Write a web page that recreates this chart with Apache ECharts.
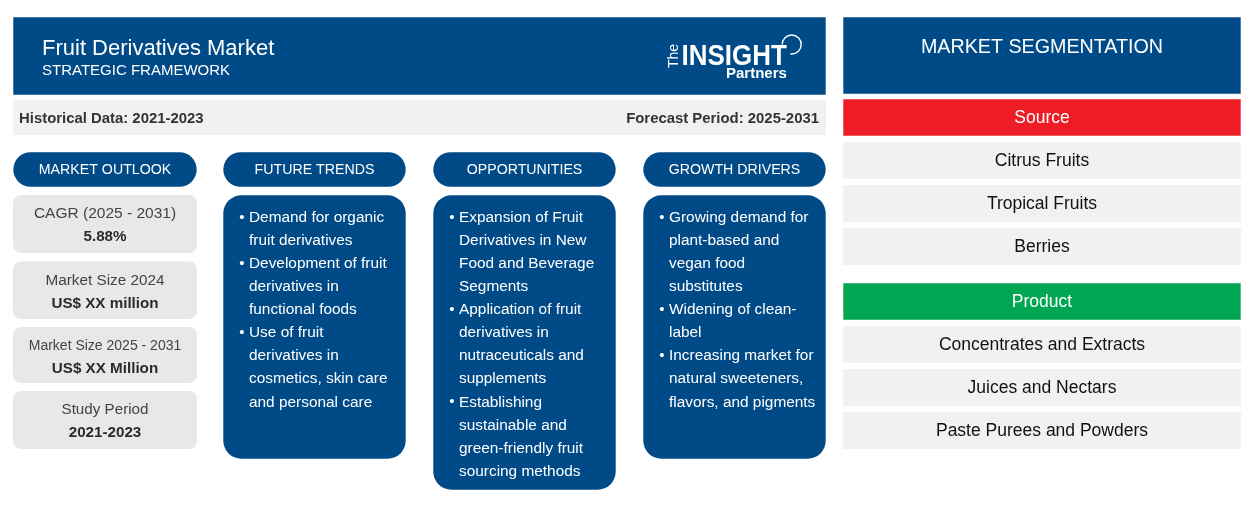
<!DOCTYPE html>
<html>
<head>
<meta charset="utf-8">
<title>Fruit Derivatives Market</title>
<script src="https://cdn.jsdelivr.net/npm/echarts@6/dist/echarts.min.js"></script>
<style>
html,body{margin:0;padding:0;background:#fff}
#main{width:1254px;height:530px}
</style>
</head>
<body>
<div id="main"></div>
<script>
// texts of the framework
var titleText = 'Fruit Derivatives Market';
var subtitleText = 'STRATEGIC FRAMEWORK';
var historicalText = 'Historical Data: 2021-2023';
var forecastText = 'Forecast Period: 2025-2031';
var columnTitles = ['MARKET OUTLOOK', 'FUTURE TRENDS', 'OPPORTUNITIES', 'GROWTH DRIVERS'];
var outlookLabels = ['CAGR (2025 - 2031)', 'Market Size 2024', 'Market Size 2025 - 2031', 'Study Period'];
var outlookValues = ['5.88%', 'US$ XX million', 'US$ XX Million', '2021-2023'];
var futureTrends = [
    ['Demand for organic', 'fruit derivatives'],
    ['Development of fruit', 'derivatives in', 'functional foods'],
    ['Use of fruit', 'derivatives in', 'cosmetics, skin care', 'and personal care']
];
var opportunities = [
    ['Expansion of Fruit', 'Derivatives in New', 'Food and Beverage', 'Segments'],
    ['Application of fruit', 'derivatives in', 'nutraceuticals and', 'supplements'],
    ['Establishing', 'sustainable and', 'green-friendly fruit', 'sourcing methods']
];
var growthDrivers = [
    ['Growing demand for', 'plant-based and', 'vegan food', 'substitutes'],
    ['Widening of clean-', 'label'],
    ['Increasing market for', 'natural sweeteners,', 'flavors, and pigments']
];
var segmentTitle = 'MARKET SEGMENTATION';
var sourceTitle = 'Source';
var sourceItems = ['Citrus Fruits', 'Tropical Fruits', 'Berries'];
var productTitle = 'Product';
var productItems = ['Concentrates and Extracts', 'Juices and Nectars', 'Paste Purees and Powders'];

var BLUE = '#004b87', GREY = '#f1f1f1', CARD = '#e8e8e8';
var FONT = '"Liberation Sans", Arial, sans-serif';
var els = [];

function box(x, y, w, h, color, r) {
    // coloured boxes sit slightly inside the pixel grid, the edges come out soft like the original
    var d = (color == GREY || color == CARD) ? 0 : 0.3;
    els.push({type: 'rect', shape: {x: x + d, y: y + d, width: w - 2 * d, height: h - 2 * d, r: r || 0}, style: {fill: color}});
}
function label(x, y, s, size, color, align, bold) {
    els.push({
        type: 'text',
        style: {
            x: x, y: y, text: s, fill: color, align: align || 'center', verticalAlign: 'middle',
            font: (bold ? 'bold ' : '') + size + 'px ' + FONT
        }
    });
}

// header
box(13, 17, 813, 78, BLUE);
label(42, 49, titleText, 22, '#fff', 'left');
label(42, 70.5, subtitleText, 15, '#fff', 'left');
box(13, 100, 813, 35, GREY);
label(19, 118.5, historicalText, 14.9, '#333', 'left', true);
label(819, 118.5, forecastText, 14.9, '#333', 'right', true);

// logo
els.push({
    type: 'text', x: 681.5, y: 56.5, scaleX: 0.895,
    style: {text: 'INSIGHT', fill: '#fff', align: 'left', verticalAlign: 'middle', font: 'bold 29px ' + FONT}
});
label(726, 73.5, 'Partners', 15, '#fff', 'left', true);
els.push({
    type: 'text', x: 674, y: 56, rotation: Math.PI / 2,
    style: {text: 'The', fill: '#fff', align: 'center', verticalAlign: 'middle', font: '14px ' + FONT}
});
els.push({
    type: 'arc',
    shape: {cx: 791.7, cy: 44.5, r: 9.5, startAngle: Math.PI, endAngle: Math.PI * 2.55},
    style: {stroke: '#fff', fill: null, lineWidth: 1.4}
});

// column heads
var colX = [13, 223, 433, 643];
var colW = [184, 183, 183, 183];
columnTitles.forEach(function (t, i) {
    box(colX[i], 152, colW[i], 35, BLUE, 17.5);
    label(colX[i] + colW[i] / 2, 170.5, t, 14.2, '#fff');
});

// outlook cards
var cardY = [195, 261.5, 327, 391];
var cardH = [58, 57.5, 56, 58];
var cardSize = [15.5, 15.3, 14, 15.2];
outlookLabels.forEach(function (t, i) {
    box(13, cardY[i], 184, cardH[i], CARD, 8);
    label(105, cardY[i] + 19, t, cardSize[i], '#444');
    label(105, cardY[i] + 42, outlookValues[i], 15.2, '#2b2b2b', 'center', true);
});

// bullet columns
function bulletCard(x, h, items) {
    box(x, 195, 183, h, BLUE, 18);
    var y = 217.5;
    items.forEach(function (lines) {
        label(x + 19, y, '\u2022', 15, '#fff');
        lines.forEach(function (s) {
            label(x + 26, y, s, 15.4, '#fff', 'left');
            y += 23.1;
        });
    });
}
bulletCard(223, 264, futureTrends);
bulletCard(433, 295, opportunities);
bulletCard(643, 264, growthDrivers);

// segmentation
box(843, 17, 398, 77, BLUE);
label(1042, 47.5, segmentTitle, 19.7, '#fff');
function segment(y, title, color, items) {
    box(843, y, 398, 37, color);
    label(1042, y + 19.5, title, 17.5, '#fff');
    items.forEach(function (s, i) {
        box(843, y + 43 + i * 43, 398, 37, GREY);
        label(1042, y + 62.5 + i * 43, s, 17.5, '#111');
    });
}
segment(99, sourceTitle, '#ee1c25', sourceItems);
segment(283, productTitle, '#00a651', productItems);

var chart = echarts.init(document.getElementById('main'));
chart.setOption({animation: false, backgroundColor: '#fff', graphic: {elements: els}});
</script>
</body>
</html>
